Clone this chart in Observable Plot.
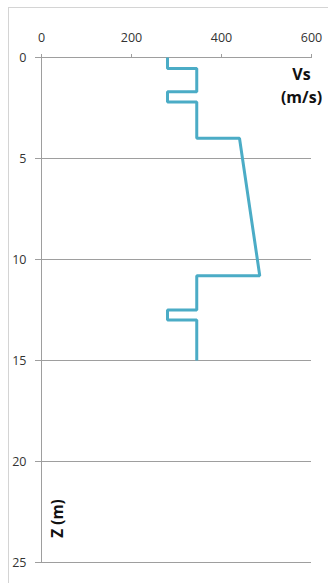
<!DOCTYPE html>
<html>
<head>
<meta charset="utf-8">
<script src="https://cdn.jsdelivr.net/npm/d3@7"></script>
<script src="https://cdn.jsdelivr.net/npm/@observablehq/plot@0.6"></script>
<style>
  html, body { margin: 0; padding: 0; background: #fff; }
  #wrap { position: relative; width: 328px; height: 583px; overflow: hidden; }
  #border { position: absolute; left: 8px; top: 7px; width: 400px; height: 700px;
            border-left: 1px solid #d4d4d4; border-top: 1px solid #d4d4d4; }
  #chart { position: absolute; left: 0; top: 0; }
</style>
</head>
<body>
<div id="wrap"><div id="border"></div><div id="chart"></div></div>
<script>
// Shear-wave velocity profile
const depth = [0, 0.55, 0.55, 1.7, 1.7, 2.2, 2.2, 4, 4, 10.8, 10.8, 12.5, 12.5, 13, 13, 15];
const vs    = [280, 280, 345, 345, 280, 280, 345, 345, 440, 485, 345, 345, 280, 280, 345, 345];
const xTicks = [0, 200, 400, 600];
const yTicks = [0, 5, 10, 15, 20, 25];
const gridDepths = [5, 10, 15, 20, 25];
const xTitle = "Vs\n(m/s)";
const yTitle = "Z (m)";

const profile = depth.map((d, i) => ({depth: d, vs: vs[i]}));
const font = "'Open Sans', 'Liberation Sans', sans-serif";

const chart = Plot.plot({
  width: 328,
  height: 583,
  marginTop: 57,
  marginLeft: 41,
  marginRight: 17,
  marginBottom: 21,
  style: {fontFamily: font, fontSize: "12px", color: "#333", background: "transparent"},
  x: {domain: [0, 600], axis: null},
  y: {domain: [0, 25], reverse: true, axis: null},
  marks: [
    Plot.ruleY(gridDepths, {stroke: "#9e9e9e", strokeWidth: 1}),
    Plot.ruleY([0], {stroke: "#9e9e9e", strokeWidth: 1}),
    Plot.ruleX([0], {stroke: "#9e9e9e", strokeWidth: 1}),
    Plot.axisX({anchor: "top", ticks: xTicks, tickSize: 4, tickPadding: 12, stroke: "#9e9e9e", fill: "#333", label: null, fontSize: 12.5}),
    Plot.axisY({anchor: "left", ticks: yTicks, tickSize: 6, tickPadding: 9, stroke: "#9e9e9e", fill: "#333", label: null, fontSize: 12.5}),
    Plot.line(profile, {x: "vs", y: "depth", stroke: "#4BACC6", strokeWidth: 3, strokeLinejoin: "miter", strokeLinecap: "butt"}),
    Plot.text([xTitle], {frameAnchor: "top-right", dx: -10, dy: 6, textAnchor: "middle", lineAnchor: "top",
      lineHeight: 1.45, fontWeight: "bold", fontSize: 16, fill: "#111"}),
    Plot.text([yTitle], {frameAnchor: "bottom-left", dx: 21, dy: -44, rotate: -90, textAnchor: "middle",
      fontWeight: "bold", fontSize: 15.5, fill: "#111"})
  ]
});
document.getElementById("chart").appendChild(chart);
</script>
</body>
</html>
